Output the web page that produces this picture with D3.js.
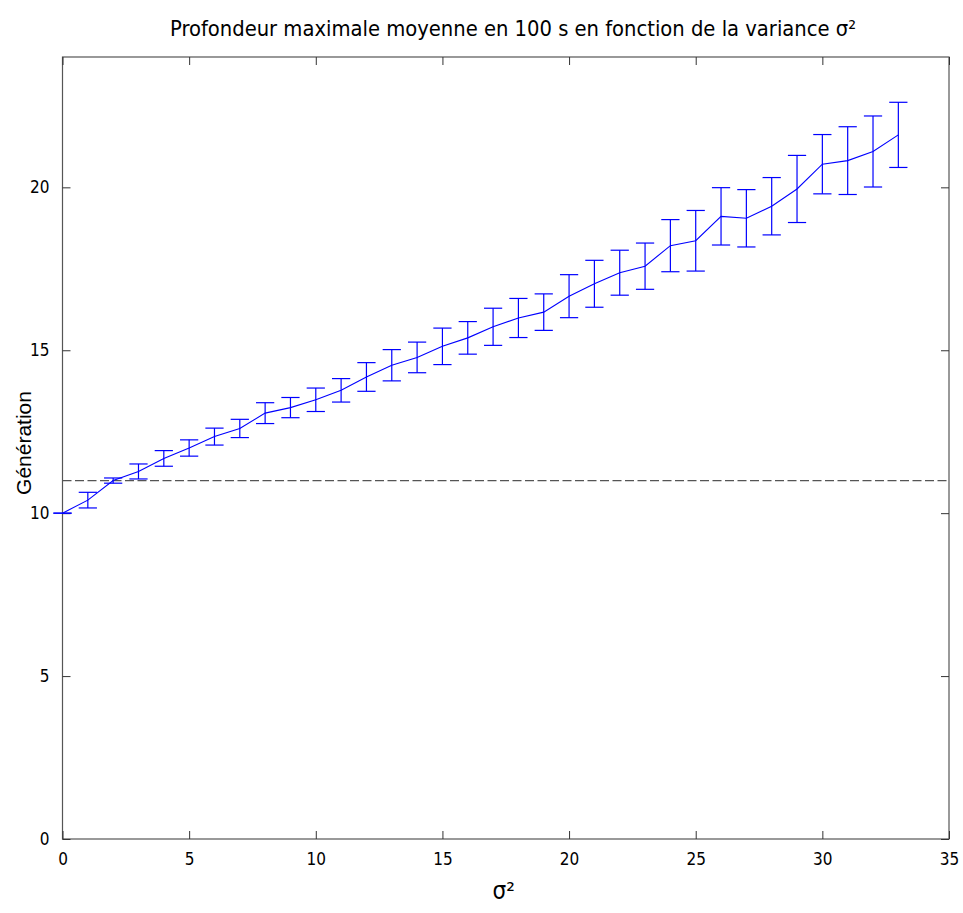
<!DOCTYPE html>
<html>
<head>
<meta charset="utf-8">
<script src="https://cdn.jsdelivr.net/npm/d3@7"></script>
<style>
  body { margin: 0; background: #fff; }
  .narrow { font-family: "Liberation Sans Narrow", "DejaVu Sans Condensed", "Liberation Sans", sans-serif; }
</style>
</head>
<body>
<script>
// data: variance, mean depth, half error
var variance = [0, 1, 2, 3, 4, 5, 6, 7, 8, 9, 10, 11, 12, 13, 14, 15, 16,
                17, 18, 19, 20, 21, 22, 23, 24, 25, 26, 27, 28, 29, 30, 31, 32, 33];
var meanDepth = [10.0, 10.4, 11.0, 11.28, 11.68, 12.0, 12.35, 12.6, 13.07, 13.24, 13.48, 13.77,
                 14.18, 14.54, 14.78, 15.12, 15.38, 15.72, 15.99, 16.17, 16.66, 17.04, 17.38, 17.58,
                 18.21, 18.36, 19.11, 19.05, 19.42, 19.95, 20.71, 20.82, 21.1, 21.61];
var errHalf = [0.0, 0.24, 0.08, 0.23, 0.24, 0.25, 0.26, 0.28, 0.32, 0.31, 0.36, 0.36,
               0.44, 0.48, 0.47, 0.56, 0.5, 0.57, 0.6, 0.56, 0.66, 0.72, 0.69, 0.71,
               0.8, 0.93, 0.88, 0.88, 0.88, 1.03, 0.91, 1.04, 1.09, 1.0];
var refLevel = 11;
var xTicks = [0, 5, 10, 15, 20, 25, 30, 35];
var yTicks = [0, 5, 10, 15, 20];

var width = 963, height = 913;
var margin = {top: 57, right: 14, bottom: 74, left: 62.5};
var plotW = width - margin.left - margin.right,
    plotH = height - margin.top - margin.bottom;

var data = variance.map(function(v, i) {
  return {x: v, y: meanDepth[i], e: errHalf[i]};
});

var x = d3.scaleLinear().domain([0, 35]).range([0, plotW]);
var y = d3.scaleLinear().domain([0, 24]).range([plotH, 0]);

var svg = d3.select("body").append("svg")
    .attr("width", width)
    .attr("height", height)
  .append("g")
    .attr("transform", "translate(" + margin.left + "," + margin.top + ")");

// box + inward ticks, matlab style
svg.append("rect")
    .attr("width", plotW).attr("height", plotH)
    .attr("fill", "none").attr("stroke", "#555").attr("stroke-width", 1.2);

svg.append("g")
    .attr("transform", "translate(0," + plotH + ")")
    .call(d3.axisBottom(x).tickValues(xTicks).tickSizeInner(-8).tickSizeOuter(0).tickPadding(14))
    .call(function(g) { g.select(".domain").remove(); });
svg.append("g")
    .call(d3.axisTop(x).tickValues(xTicks).tickSizeInner(-8).tickSizeOuter(0).tickFormat(""))
    .call(function(g) { g.select(".domain").remove(); });
svg.append("g")
    .call(d3.axisLeft(y).tickValues(yTicks).tickSizeInner(-8).tickSizeOuter(0).tickPadding(13))
    .call(function(g) { g.select(".domain").remove(); });
svg.append("g")
    .attr("transform", "translate(" + plotW + ",0)")
    .call(d3.axisRight(y).tickValues(yTicks).tickSizeInner(-8).tickSizeOuter(0).tickFormat(""))
    .call(function(g) { g.select(".domain").remove(); });

svg.selectAll(".tick line").attr("stroke", "#333");
svg.selectAll(".tick text")
    .attr("class", "narrow")
    .attr("font-size", 17)
    .attr("fill", "#000");

// reference level
svg.append("line")
    .attr("x1", x(0)).attr("x2", x(35))
    .attr("y1", y(refLevel)).attr("y2", y(refLevel))
    .attr("stroke", "#555").attr("stroke-width", 1.3)
    .attr("stroke-dasharray", "9,3.5");

// error bars
var capHalf = 0.36;
var bars = svg.append("g").attr("stroke", "#0000ff").attr("stroke-width", 1.2);
bars.selectAll(".stem").data(data).enter().append("line")
    .attr("x1", function(d) { return x(d.x); })
    .attr("x2", function(d) { return x(d.x); })
    .attr("y1", function(d) { return y(d.y - d.e); })
    .attr("y2", function(d) { return y(d.y + d.e); });
bars.selectAll(".capTop").data(data).enter().append("line")
    .attr("x1", function(d) { return x(d.x - capHalf); })
    .attr("x2", function(d) { return x(d.x + capHalf); })
    .attr("y1", function(d) { return y(d.y + d.e); })
    .attr("y2", function(d) { return y(d.y + d.e); });
bars.selectAll(".capBot").data(data).enter().append("line")
    .attr("x1", function(d) { return x(d.x - capHalf); })
    .attr("x2", function(d) { return x(d.x + capHalf); })
    .attr("y1", function(d) { return y(d.y - d.e); })
    .attr("y2", function(d) { return y(d.y - d.e); });

// mean line
var valueline = d3.line()
    .x(function(d) { return x(d.x); })
    .y(function(d) { return y(d.y); });
svg.append("path")
    .datum(data)
    .attr("fill", "none")
    .attr("stroke", "#0000ff")
    .attr("stroke-width", 1.1)
    .attr("d", valueline);

// title
svg.append("text")
    .attr("class", "narrow")
    .attr("x", 170 - margin.left).attr("y", -21)
    .attr("font-size", 22)
    .attr("textLength", 686).attr("lengthAdjust", "spacingAndGlyphs")
    .text("Profondeur maximale moyenne en 100 s en fonction de la variance σ²");

// axis labels
svg.append("text")
    .attr("class", "narrow")
    .attr("x", plotW / 2 - 2).attr("y", plotH + 60)
    .attr("text-anchor", "middle")
    .attr("font-size", 24)
    .text("σ²");

svg.append("text")
    .attr("transform", "translate(" + (-32) + "," + (plotH / 2 - 5) + ") rotate(-90)")
    .attr("text-anchor", "middle")
    .attr("font-family", "Liberation Sans, Arial, sans-serif")
    .attr("font-size", 21)
    .text("Génération");
</script>
</body>
</html>
